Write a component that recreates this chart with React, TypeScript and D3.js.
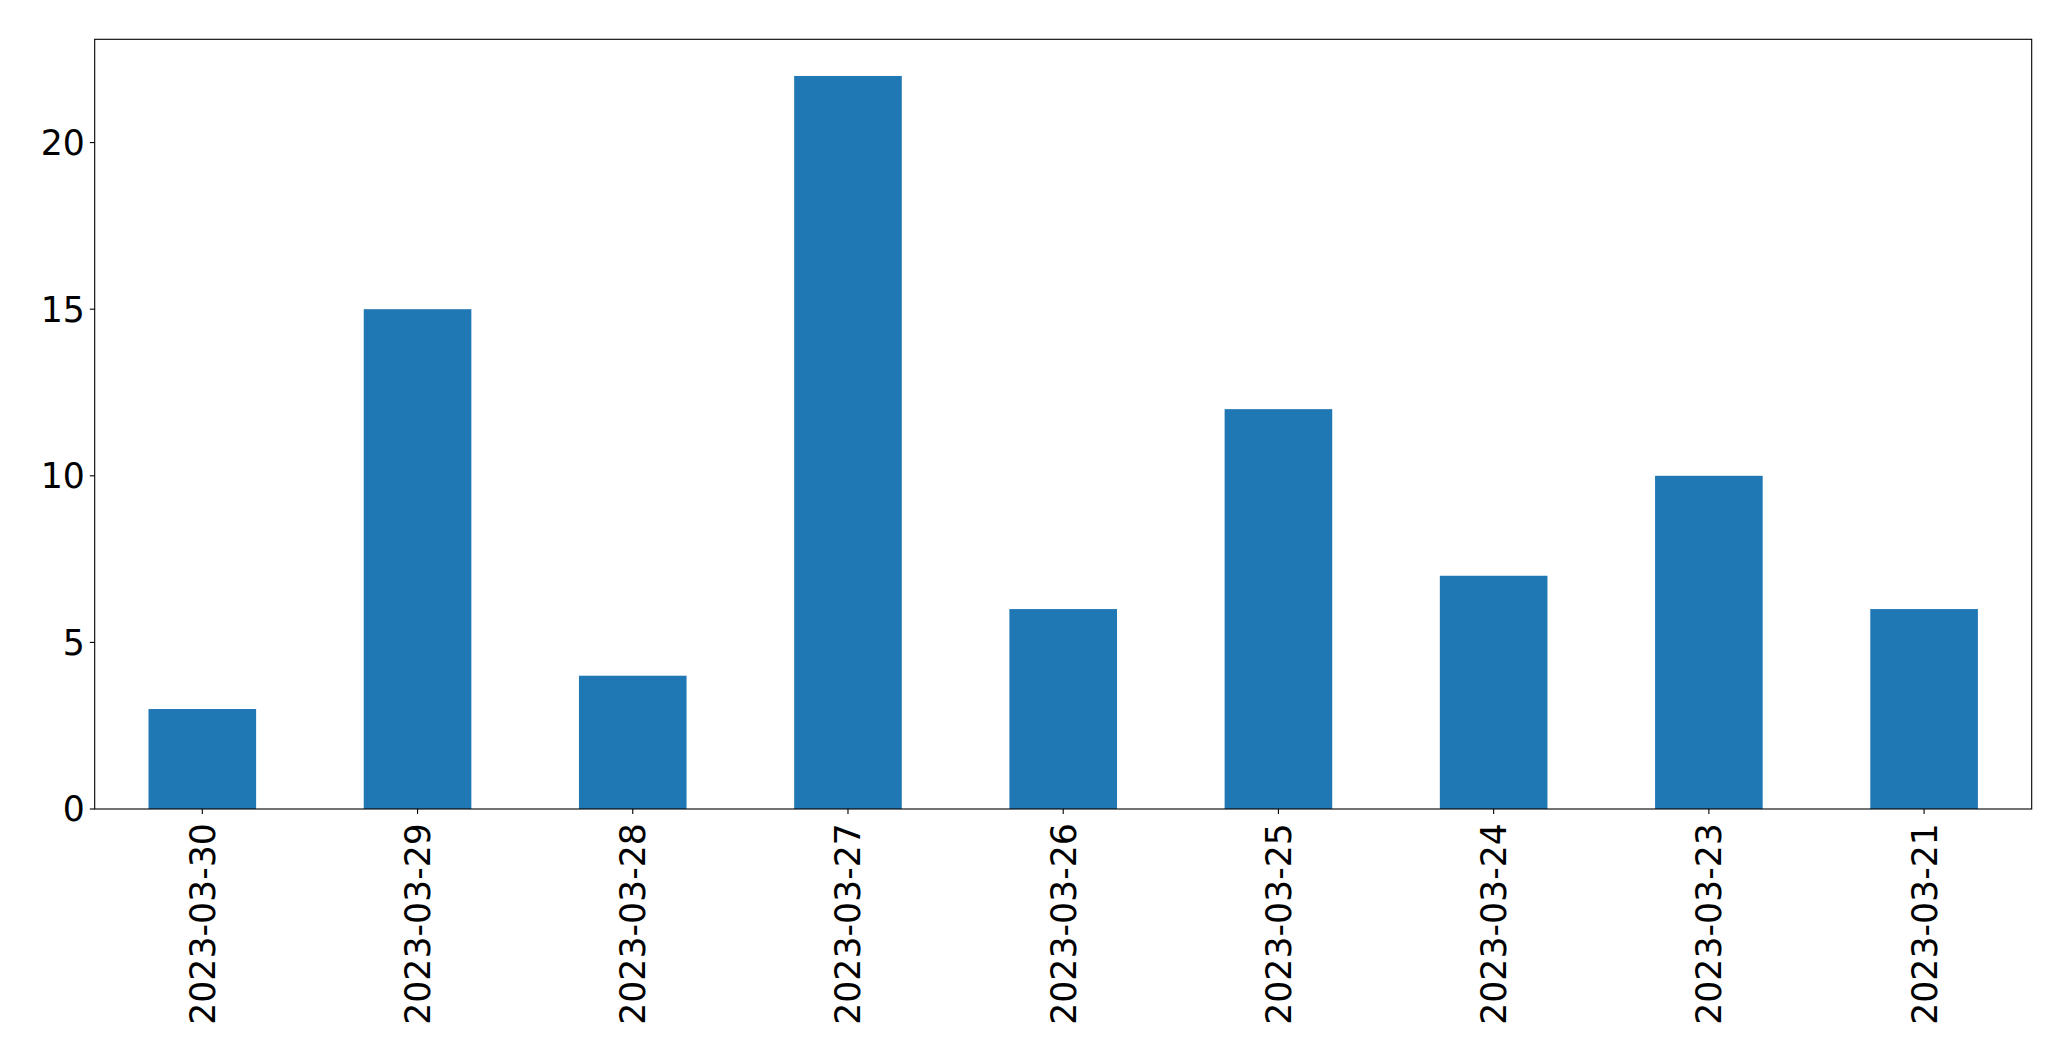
import React from "react";
import * as d3 from "d3";

const categories = ["2023-03-30", "2023-03-29", "2023-03-28", "2023-03-27", "2023-03-26", "2023-03-25", "2023-03-24", "2023-03-23", "2023-03-21"];
const values = [3, 15, 4, 22, 6, 12, 7, 10, 6];
const yTicks = [0, 5, 10, 15, 20];

const W = 2071;
const H = 1061;
const left = 94.7;
const right = 2031.7;
const top = 39.3;
const bottom = 809;
const FONT = "DejaVu Sans, sans-serif";
const FS = 34.7;

export default function App() {
  const x = d3.scaleLinear().domain([-0.5, categories.length - 0.5]).range([left, right]);
  const y = d3.scaleLinear().domain([0, d3.max(values)! * 1.05]).range([bottom, top]);
  const bw = x(0.25) - x(-0.25);
  return (
    <div style={{ position: "absolute", left: 0, top: 0 }}>
      <svg width={W} height={H} style={{ display: "block", background: "#fff" }}>
        {values.map((v, i) => (
          <rect key={i} x={x(i) - bw / 2} y={y(v)} width={bw} height={y(0) - y(v)} fill="#1f77b4" />
        ))}
        <rect x={left} y={top} width={right - left} height={bottom - top} fill="none" stroke="#000" strokeWidth={1.1} />
        {yTicks.map((t) => (
          <g key={t}>
            <line x1={left - 4.9} x2={left} y1={y(t)} y2={y(t)} stroke="#000" strokeWidth={1.1} />
            <text x={left - 9.8} y={y(t)} dy="0.36em" textAnchor="end" fontFamily={FONT} fontSize={FS} fill="#000">
              {t}
            </text>
          </g>
        ))}
        {categories.map((c, i) => (
          <g key={c}>
            <line x1={x(i)} x2={x(i)} y1={bottom} y2={bottom + 4.9} stroke="#000" strokeWidth={1.1} />
            <text
              transform={`translate(${x(i)},${bottom + 14.2}) rotate(-90)`}
              dy="0.36em"
              textAnchor="end"
              fontFamily={FONT}
              fontSize={FS}
              fill="#000"
            >
              {c}
            </text>
          </g>
        ))}
      </svg>
    </div>
  );
}
